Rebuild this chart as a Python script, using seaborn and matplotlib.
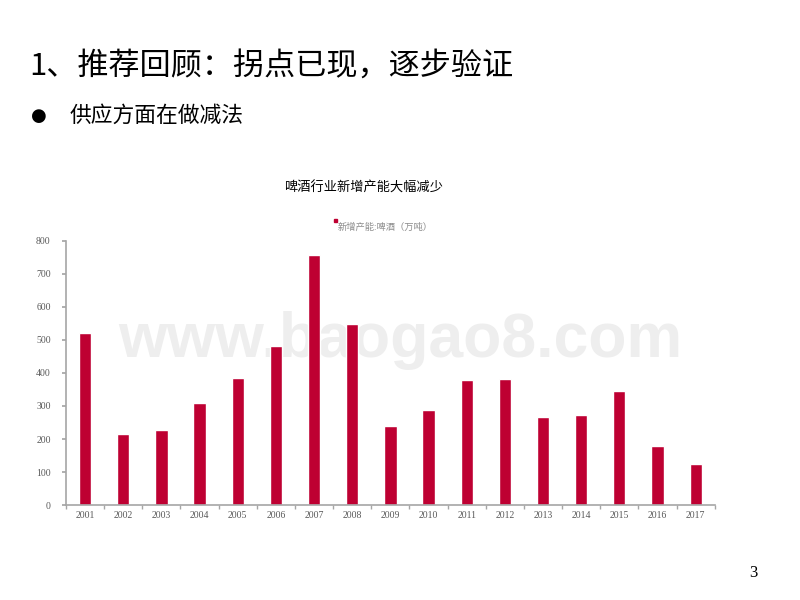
import matplotlib
matplotlib.use("Agg")
import matplotlib.pyplot as plt
from matplotlib.patches import Rectangle
import seaborn as sns
import pandas as pd

# data
years = [str(y) for y in range(2001, 2018)]
new_capacity = [520, 216, 228, 310, 384, 481, 755, 549, 240, 289,
                378, 381, 268, 274, 345, 180, 125]

heading = "1、推荐回顾：拐点已现，逐步验证"
bullet_text = "供应方面在做减法"
chart_title = "啤酒行业新增产能大幅减少"
series_name = "新增产能:啤酒（万吨）"
yticks = [0, 100, 200, 300, 400, 500, 600, 700, 800]

df = pd.DataFrame({"year": years, "value": new_capacity})

sns.set_theme(style="white")
cjk = ["Noto Sans CJK SC", "DejaVu Sans"]
plt.rcParams["font.family"] = cjk

bar_color = "#BE0032"
axis_gray = "#A6A6A6"
label_gray = "#595959"

fig = plt.figure(figsize=(8, 6), dpi=100)
ax = fig.add_axes([0.0825, 0.158, 0.811, 0.441])

# watermark behind the bars
fig.text(0.5, 0.432, "www.baogao8.com", ha="center", va="center",
         fontsize=45, fontweight="bold", color="#eeeeee",
         family="Liberation Sans", zorder=0)
ax.set_zorder(1)
ax.patch.set_alpha(0)

sns.barplot(data=df, x="year", y="value", color=bar_color,
            saturation=1, width=0.32, ax=ax, zorder=2)

ax.set_xlim(-0.5, len(years) - 0.5)
ax.set_ylim(0, 800)
ax.set_yticks(yticks)
ax.set_xlabel("")
ax.set_ylabel("")

for side in ["top", "right"]:
    ax.spines[side].set_visible(False)
for side in ["left", "bottom"]:
    ax.spines[side].set_color(axis_gray)
    ax.spines[side].set_linewidth(1.2)

# x ticks sit between the categories
ax.set_xticks([i - 0.5 for i in range(len(years) + 1)], minor=True)
ax.tick_params(axis="x", which="major", length=0, pad=4)
ax.tick_params(axis="x", which="minor", length=3, color=axis_gray,
               direction="out", bottom=True)
ax.tick_params(axis="y", length=3, color=axis_gray, direction="out",
               left=True, pad=8)
for lbl in ax.get_xticklabels() + ax.get_yticklabels():
    lbl.set_family("Liberation Serif")
    lbl.set_fontsize(7)
    lbl.set_color(label_gray)

# chart title and legend
fig.text(0.455, 0.687, chart_title, ha="center", va="center",
         fontsize=9.5, color="black")
fig.add_artist(Rectangle((0.4175, 0.63), 0.0035, 0.005,
                         transform=fig.transFigure, color=bar_color))
fig.text(0.4225, 0.621, series_name, ha="left", va="center",
         fontsize=6.7, color="#8c8c8c")

# slide text
fig.text(0.037, 0.89, heading, ha="left", va="center",
         fontsize=22.4, color="black")
fig.text(0.048, 0.807, "●", ha="center", va="center",
         fontsize=13, color="black", family="DejaVu Sans")
fig.text(0.087, 0.807, bullet_text, ha="left", va="center",
         fontsize=15.7, color="black")
fig.text(0.942, 0.045, "3", ha="center", va="center",
         fontsize=12, color="black", family="Liberation Serif")

fig.savefig("out.png", dpi=100)
